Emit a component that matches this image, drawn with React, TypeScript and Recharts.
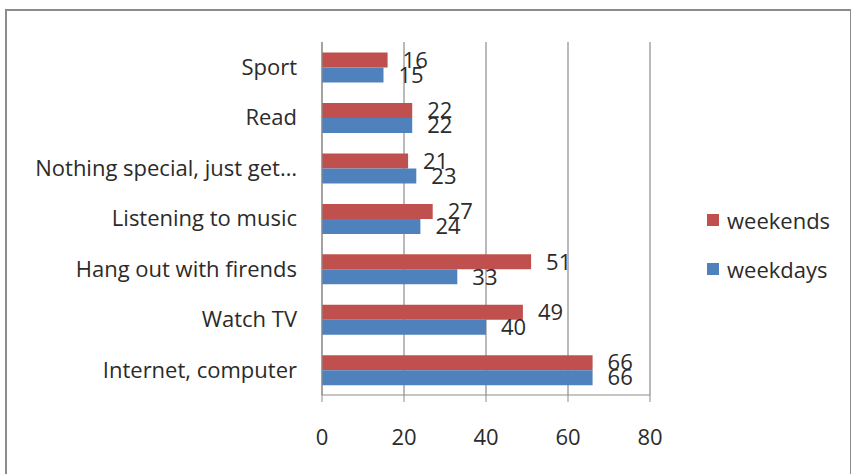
import React from "react";
import {
  BarChart,
  Bar,
  XAxis,
  YAxis,
  CartesianGrid,
  Legend,
  LabelList,
} from "recharts";

// categories, top to bottom as drawn
const activities = [
  "Sport",
  "Read",
  "Nothing special, just get…",
  "Listening to music",
  "Hang out with firends",
  "Watch TV",
  "Internet, computer",
];
const weekends = [16, 22, 21, 27, 51, 49, 66];
const weekdays = [15, 22, 23, 24, 33, 40, 66];
const xTicks = [0, 20, 40, 60, 80];
const categoryEdges = [0, 1, 2, 3, 4, 5, 6, 7];
const legendOrder = ["weekends", "weekdays"];

const RED = "#C0504D";
const BLUE = "#4F81BD";
const FONT = "'Open Sans', Lato, sans-serif";
const TEXT = "#2b2b2b";
const FS = 22;

const data = activities.map((name, i) => ({
  name,
  weekends: weekends[i],
  weekdays: weekdays[i],
}));

function LegendBox(props: any) {
  const items = [...(props.payload || [])].sort(
    (a: any, b: any) => legendOrder.indexOf(a.value) - legendOrder.indexOf(b.value)
  );
  return (
    <div style={{ fontFamily: FONT, fontSize: FS, color: TEXT }}>
      {items.map((it: any) => (
        <div
          key={it.value}
          style={{ height: 49, display: "flex", alignItems: "center" }}
        >
          <span
            style={{
              width: 12,
              height: 12,
              background: it.color,
              display: "inline-block",
              marginRight: 8,
            }}
          />
          <span>{it.value}</span>
        </div>
      ))}
    </div>
  );
}

export default function App() {
  return (
    <div
      style={{
        position: "absolute",
        left: 0,
        top: 0,
        width: 851,
        height: 474,
        background: "#fff",
        overflow: "hidden",
      }}
    >
      <div
        style={{
          position: "absolute",
          left: 5,
          top: 9,
          width: 843,
          height: 480,
          border: "2px solid #8c8c8c",
        }}
      />
      <div style={{ position: "absolute", left: 0, top: 0 }}>
        <BarChart
          width={851}
          height={474}
          data={data}
          layout="vertical"
          margin={{ top: 42, right: 61, bottom: 19, left: 0 }}
          barCategoryGap="21%"
          barGap={0}
        >
          <CartesianGrid
            horizontal={false}
            stroke="#8c8c8c"
            strokeWidth={1.2}
          />
          <XAxis
            type="number"
            domain={[0, 80]}
            ticks={xTicks}
            height={60}
            tickSize={7}
            tickMargin={27}
            axisLine={{ stroke: "#8c8c8c" }}
            tickLine={{ stroke: "#8c8c8c" }}
            tick={{ fontSize: FS, fill: TEXT, fontFamily: FONT }}
          />
          <YAxis
            yAxisId="edges"
            type="number"
            domain={[0, 7]}
            ticks={categoryEdges}
            allowDataOverflow
            width={1}
            tick={false}
            tickSize={6}
            axisLine={false}
            tickLine={{ stroke: "#8c8c8c" }}
          />
          <YAxis
            yAxisId="cat"
            type="category"
            dataKey="name"
            width={321}
            tickLine={false}
            tickSize={5}
            tickMargin={20}
            interval={0}
            axisLine={{ stroke: "#8c8c8c" }}
            tick={{ fontSize: FS, fill: TEXT, fontFamily: FONT }}
          />
          <Legend
            layout="vertical"
            verticalAlign="top"
            align="right"
            content={LegendBox}
            wrapperStyle={{ left: 707, top: 195, width: 140 }}
          />
          <Bar
            yAxisId="cat"
            dataKey="weekends"
            name="weekends"
            fill={RED}
            isAnimationActive={false}
          >
            <LabelList
              dataKey="weekends"
              position="right"
              offset={15}
              style={{ fontSize: FS, fill: TEXT, fontFamily: FONT }}
            />
          </Bar>
          <Bar
            yAxisId="cat"
            dataKey="weekdays"
            name="weekdays"
            fill={BLUE}
            isAnimationActive={false}
          >
            <LabelList
              dataKey="weekdays"
              position="right"
              offset={15}
              style={{ fontSize: FS, fill: TEXT, fontFamily: FONT }}
            />
          </Bar>
        </BarChart>
      </div>
    </div>
  );
}
